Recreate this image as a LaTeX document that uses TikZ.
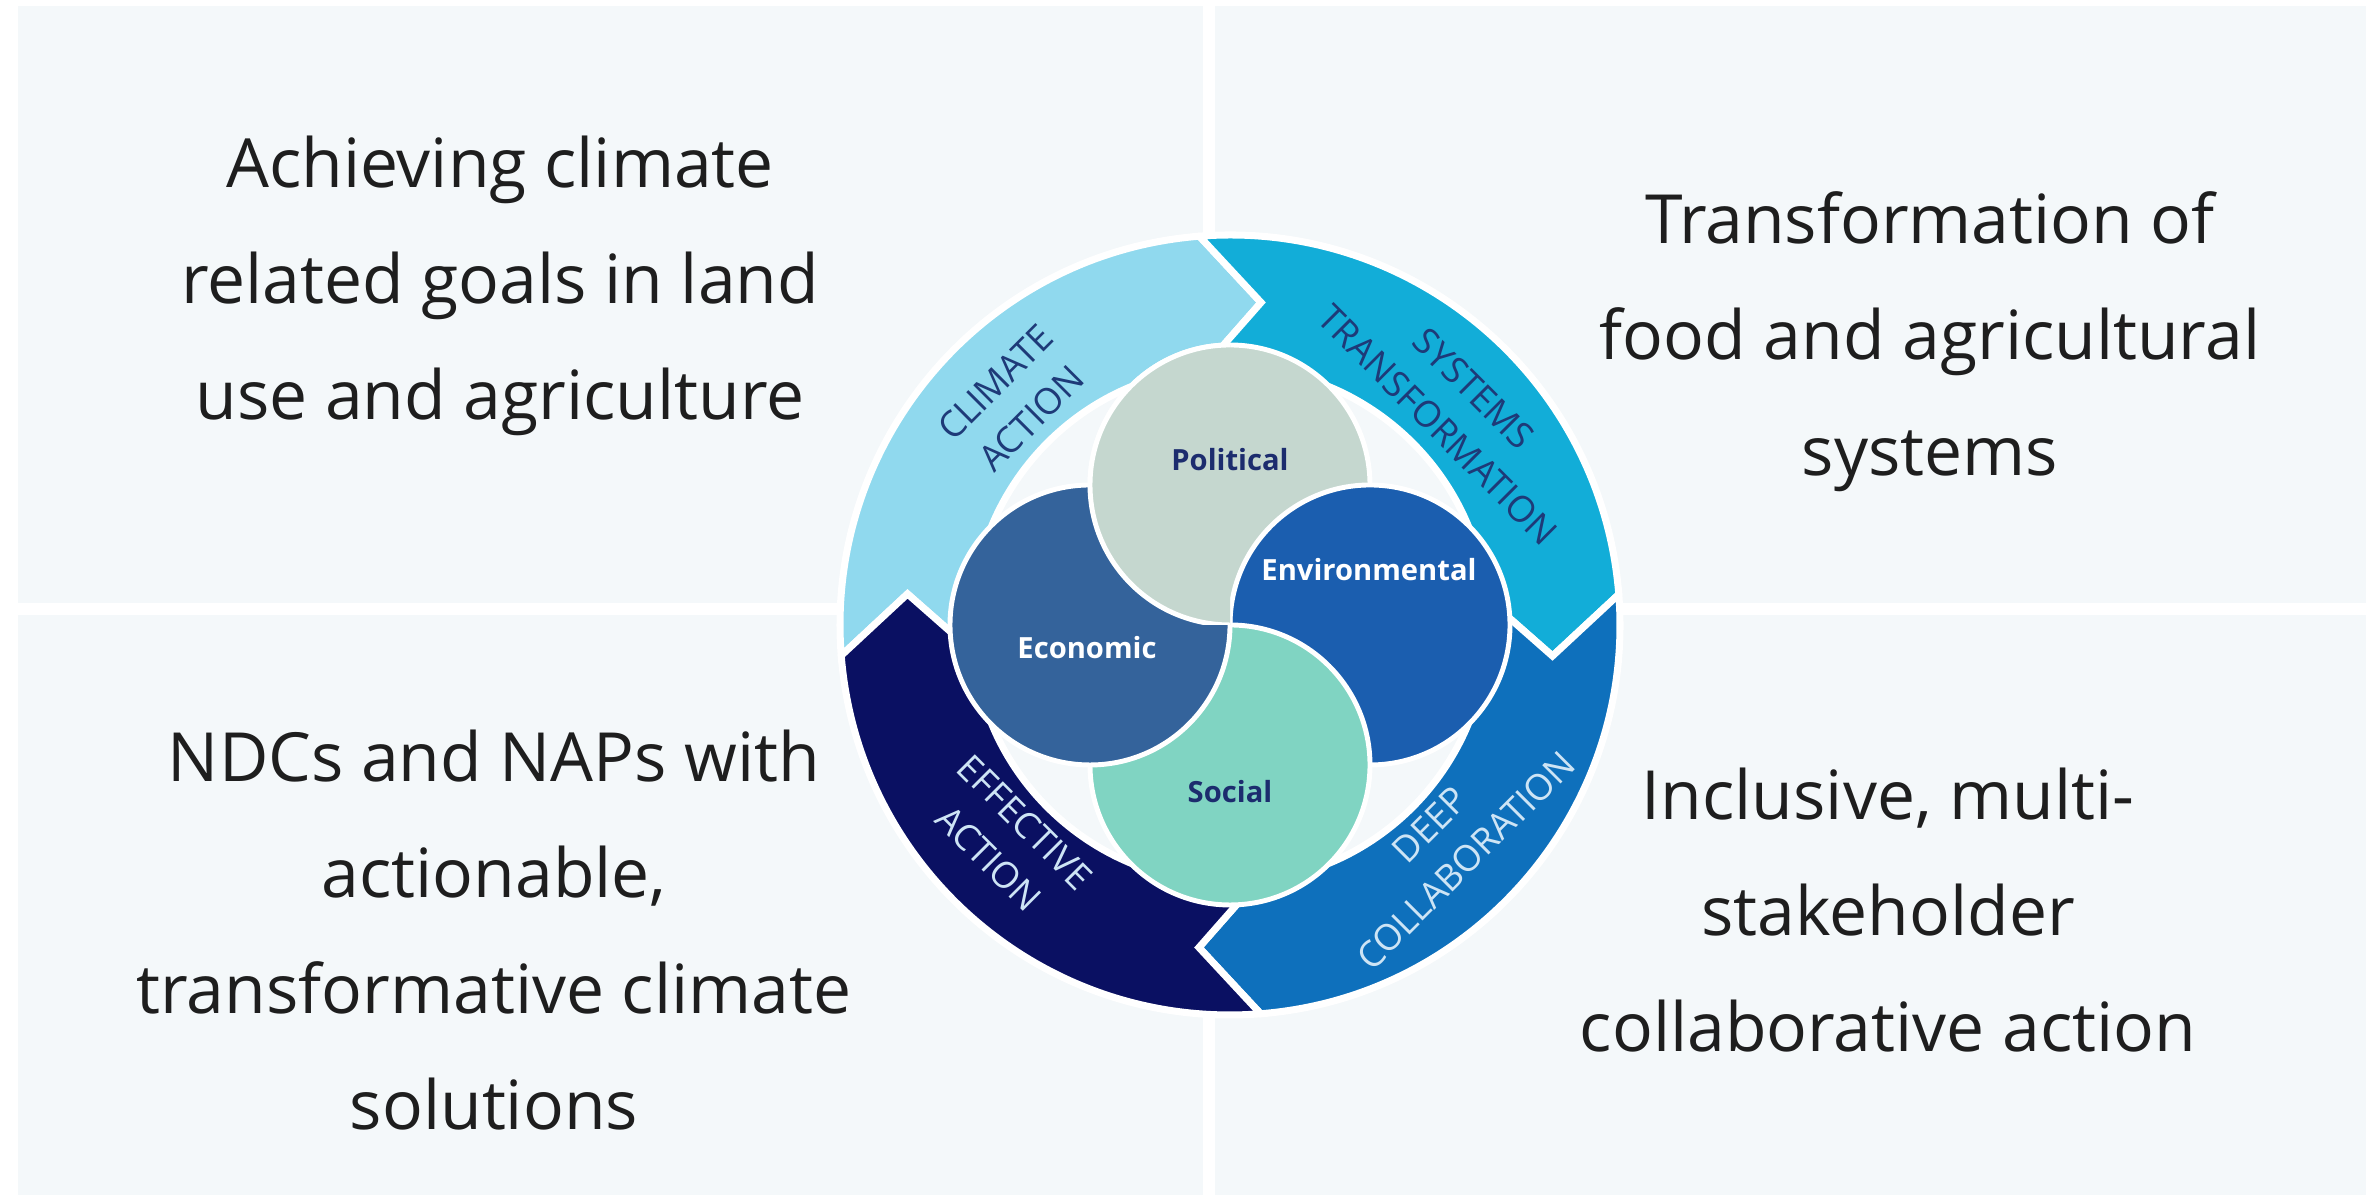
\documentclass[tikz,border=0pt]{standalone}
\usepackage{fontspec}
\setmainfont{Open Sans}
\usetikzlibrary{calc}
\definecolor{panel}{RGB}{244,248,250}
\definecolor{climate}{RGB}{144,217,238}
\definecolor{systems}{RGB}{18,173,216}
\definecolor{deep}{RGB}{14,112,188}
\definecolor{effective}{RGB}{10,16,98}
\definecolor{political}{RGB}{197,215,207}
\definecolor{economic}{RGB}{52,99,155}
\definecolor{environ}{RGB}{27,94,175}
\definecolor{social}{RGB}{128,212,194}
\definecolor{navytext}{RGB}{28,44,110}
\definecolor{bandnavy}{RGB}{30,58,120}
\definecolor{lighttext}{RGB}{205,228,245}
\definecolor{bodytext}{RGB}{30,30,30}
\newcommand\RingOut{3.90}
\newcommand\RingIn{2.58}
\newcommand\RingMid{3.24}
\newcommand\ringband[2]{%
  \pgfmathsetmacro\bandA{#1}%
  \pgfmathsetmacro\bandB{#1-90}%
  \fill[#2, draw=white, line width=2pt, line join=miter]
    ({\bandA+4.5}:\RingOut) arc[start angle={\bandA+4.5}, end angle={\bandB+4.5}, radius=\RingOut]
    -- ({\bandB-5.5}:\RingMid) -- ({\bandB+6}:\RingIn)
    arc[start angle={\bandB+6}, end angle={\bandA+6}, radius=\RingIn]
    -- ({\bandA-5.5}:\RingMid) -- cycle;}
\tikzset{
  bigtext/.style={align=center, text=bodytext, font=\fontsize{19.3}{33}\selectfont, inner sep=0pt},
  ringlabel/.style={align=center, font=\fontsize{10.3}{14.5}\selectfont, inner sep=0pt},
  petal/.style={draw=white, line width=1.4pt},
  petallabel/.style={font=\fontsize{8.3}{10}\selectfont\bfseries, inner sep=0pt}
}
\begin{document}
\begin{tikzpicture}
\useasboundingbox (0,0) rectangle (23.66,11.99);
\fill[white] (0,0) rectangle (23.66,11.99);
\fill[panel] (0.18,5.96) rectangle (12.03,11.93);
\fill[panel] (12.15,5.96) rectangle (23.66,11.93);
\fill[panel] (0.18,0.04) rectangle (12.03,5.84);
\fill[panel] (12.15,0.04) rectangle (23.66,5.84);

\begin{scope}[shift={(12.30,5.74)}]
  % ring of arrows
  \ringband{180}{climate}
  \ringband{90}{systems}
  \ringband{0}{deep}
  \ringband{270}{effective}
  % four circles
  \fill[political, petal] (0,1.40) circle[radius=1.40];
  \fill[environ, petal] (1.40,0) circle[radius=1.40];
  \fill[social, petal] (0,-1.40) circle[radius=1.40];
  \fill[economic, petal] (-1.40,0) circle[radius=1.40];
  \begin{scope}
    \clip (-3,0) rectangle (0,3);
    \fill[political, petal] (0,1.40) circle[radius=1.40];
  \end{scope}
  % circle labels
  \node[petallabel, text=navytext] (pol) at (0,1.65) {Political};
  \node[petallabel, text=white] (eco) at (-1.43,-0.23) {Economic};
  \node[petallabel, text=white] (env) at (1.39,0.55) {Environmental};
  \node[petallabel, text=navytext] (soc) at (0,-1.67) {Social};
  % ring labels
  \node[ringlabel, text=bandnavy, rotate=45] (ca) at (134:3.12) {CLIMATE\\ACTION};
  \node[ringlabel, text=bandnavy, rotate=-45] (st) at (44:3.14) {SYSTEMS\\TRANSFORMATION};
  \node[ringlabel, text=lighttext, rotate=45] (dc) at (-45:3.08) {DEEP\\COLLABORATION};
  \node[ringlabel, text=lighttext, rotate=-45] (ea) at (224:3.10) {EFFECTIVE\\ACTION};
\end{scope}

\node[bigtext] (tl) at (5.00,9.13) {Achieving climate\\related goals in land\\use and agriculture};
\node[bigtext] (tr) at (19.30,8.57) {Transformation of\\food and agricultural\\systems};
\node[bigtext] (bl) at (4.94,2.69) {NDCs and NAPs with\\actionable,\\transformative climate\\solutions};
\node[bigtext] (br) at (18.88,2.89) {Inclusive, multi-\\stakeholder\\collaborative action};
\end{tikzpicture}
\end{document}
